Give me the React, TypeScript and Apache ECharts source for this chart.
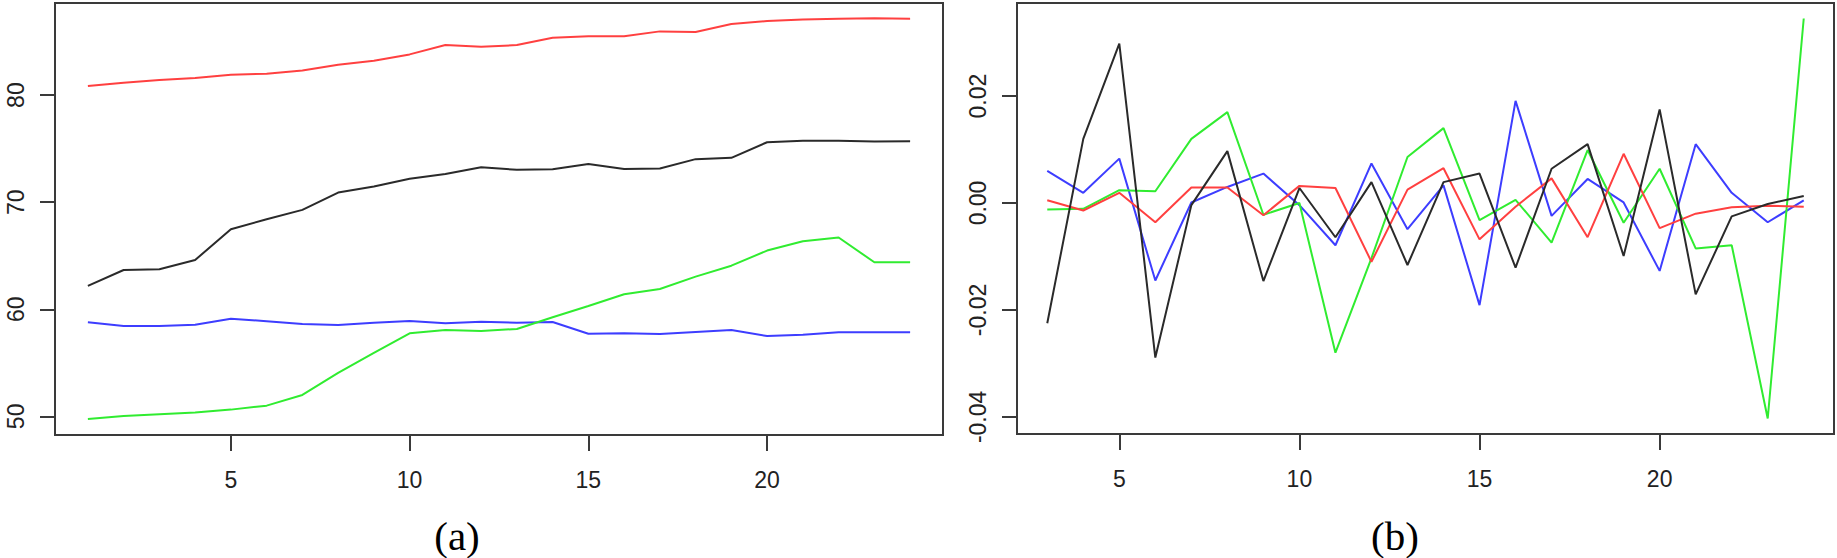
import React, { useEffect, useRef } from "react";
import * as echarts from "echarts";

const xA = [1, 2, 3, 4, 5, 6, 7, 8, 9, 10, 11, 12, 13, 14, 15, 16, 17, 18, 19, 20, 21, 22, 23, 24];
const redA = [80.84, 81.16, 81.4, 81.6, 81.9, 82.0, 82.3, 82.84, 83.2, 83.8, 84.67, 84.52, 84.67, 85.36, 85.49, 85.5, 85.95, 85.9, 86.64, 86.92, 87.07, 87.14, 87.17, 87.14];
const blackA = [62.18, 63.67, 63.74, 64.6, 67.48, 68.41, 69.28, 70.9, 71.46, 72.18, 72.64, 73.27, 73.02, 73.08, 73.57, 73.1, 73.14, 74.02, 74.14, 75.6, 75.73, 75.73, 75.67, 75.7];
const blueA = [58.78, 58.44, 58.44, 58.56, 59.12, 58.88, 58.63, 58.53, 58.75, 58.9, 58.69, 58.84, 58.75, 58.81, 57.72, 57.75, 57.69, 57.88, 58.07, 57.5, 57.63, 57.85, 57.85, 57.85];
const greenA = [49.76, 50.03, 50.19, 50.35, 50.63, 51.0, 52.0, 54.06, 55.93, 57.76, 58.07, 57.97, 58.16, 59.25, 60.3, 61.4, 61.9, 63.05, 64.07, 65.48, 66.36, 66.7, 64.39, 64.39];

const xB = [3, 4, 5, 6, 7, 8, 9, 10, 11, 12, 13, 14, 15, 16, 17, 18, 19, 20, 21, 22, 23, 24];
const redB = [0.0005, -0.0014, 0.0019, -0.0036, 0.0029, 0.0029, -0.0023, 0.0032, 0.0028, -0.011, 0.0025, 0.0065, -0.0068, -0.0007, 0.0046, -0.0064, 0.0092, -0.0047, -0.002, -0.0008, -0.0005, -0.0007];
const blueB = [0.006, 0.0019, 0.0083, -0.0145, 0.0001, 0.003, 0.0055, -0.0004, -0.0079, 0.0074, -0.0049, 0.0033, -0.0191, 0.0191, -0.0024, 0.0045, 0.0001, -0.0127, 0.011, 0.0019, -0.0036, 0.0005];
const greenB = [-0.0012, -0.0011, 0.0024, 0.0022, 0.012, 0.017, -0.0022, 0.0, -0.028, -0.0103, 0.0086, 0.014, -0.0032, 0.0006, -0.0074, 0.0099, -0.0037, 0.0064, -0.0085, -0.0079, -0.0403, 0.0345];
const blackB = [-0.0225, 0.012, 0.0298, -0.0289, -0.0004, 0.0097, -0.0146, 0.0028, -0.0064, 0.0039, -0.0116, 0.0039, 0.0055, -0.0121, 0.0064, 0.011, -0.0099, 0.0175, -0.0171, -0.0025, -0.0002, 0.0013];

const xTicks = [5, 10, 15, 20];
const yTicksA = [50, 60, 70, 80];
const yTicksB = [-0.04, -0.02, 0, 0.02];
const panelLabels = ["(a)", "(b)"];

const COLORS = { red: "#ff4040", blue: "#3d3dff", green: "#30ec30", black: "#2a2a2a" };
const AXIS_COLOR = "#3a3a3a";
const FONT = "'Liberation Sans', Arial, Helvetica, sans-serif";

function pairs(xs: number[], ys: number[]) {
  return xs.map((x, i) => [x, ys[i]]);
}

export default function App() {
  const ref = useRef<HTMLDivElement>(null);
  useEffect(() => {
    if (!ref.current) return;
    const chart = echarts.init(ref.current, null, { renderer: "svg" });
    const axisLine = { show: true, onZero: false, lineStyle: { color: AXIS_COLOR, width: 2 } };
    const tickStyle = { show: true, inside: false, lineStyle: { color: AXIS_COLOR, width: 2 } };
    const labelStyle = { color: "#222", fontSize: 23, fontFamily: FONT };
    const xAxisBase = (idx: number, min: number, max: number) => ({
      type: "value",
      gridIndex: idx,
      position: "bottom",
      min,
      max,
      axisLine,
      splitLine: { show: false },
      axisTick: { ...tickStyle, length: 16, customValues: xTicks },
      axisLabel: { ...labelStyle, margin: 33, customValues: xTicks, formatter: (v: number) => String(v) },
    });
    const yAxisBase = (idx: number, min: number, max: number, ticks: number[], fmt: (v: number) => string) => ({
      type: "value",
      gridIndex: idx,
      position: "left",
      min,
      max,
      axisLine,
      splitLine: { show: false },
      axisTick: { ...tickStyle, length: 15, customValues: ticks },
      axisLabel: { ...labelStyle, rotate: 90, margin: 28, customValues: ticks, formatter: fmt },
    });
    const line = (name: string, color: string, data: number[][], idx: number) => ({
      type: "line",
      name,
      xAxisIndex: idx,
      yAxisIndex: idx,
      data,
      showSymbol: false,
      symbol: "none",
      lineStyle: { color, width: 2 },
      z: 3,
    });
    const labelFont = "41px 'Liberation Serif', 'Times New Roman', serif";
    chart.setOption({
      animation: false,
      backgroundColor: "#fff",
      grid: [
        { left: 55, top: 3, width: 888, height: 432, show: true, borderColor: AXIS_COLOR, borderWidth: 2, backgroundColor: "transparent" },
        { left: 1017, top: 3, width: 817, height: 431, show: true, borderColor: AXIS_COLOR, borderWidth: 2, backgroundColor: "transparent" },
      ],
      xAxis: [xAxisBase(0, 0.08, 24.92), xAxisBase(1, 2.16, 24.84)],
      yAxis: [
        yAxisBase(0, 48.26, 88.6, yTicksA, (v: number) => String(Math.round(v))),
        yAxisBase(1, -0.0432, 0.0374, yTicksB, (v: number) => v.toFixed(2)),
      ],
      graphic: [
        { type: "text", x: 457, y: 536, style: { text: panelLabels[0], font: labelFont, fill: "#000", textAlign: "center", textVerticalAlign: "middle" } },
        { type: "text", x: 1395, y: 536, style: { text: panelLabels[1], font: labelFont, fill: "#000", textAlign: "center", textVerticalAlign: "middle" } },
      ],
      series: [
        line("red", COLORS.red, pairs(xA, redA), 0),
        line("black", COLORS.black, pairs(xA, blackA), 0),
        line("blue", COLORS.blue, pairs(xA, blueA), 0),
        line("green", COLORS.green, pairs(xA, greenA), 0),
        line("blue", COLORS.blue, pairs(xB, blueB), 1),
        line("green", COLORS.green, pairs(xB, greenB), 1),
        line("red", COLORS.red, pairs(xB, redB), 1),
        line("black", COLORS.black, pairs(xB, blackB), 1),
      ],
    });
    return () => chart.dispose();
  }, []);
  return (
    <div
      ref={ref}
      style={{ position: "fixed", left: 0, top: 0, width: 1837, height: 558, background: "#fff" }}
    />
  );
}
